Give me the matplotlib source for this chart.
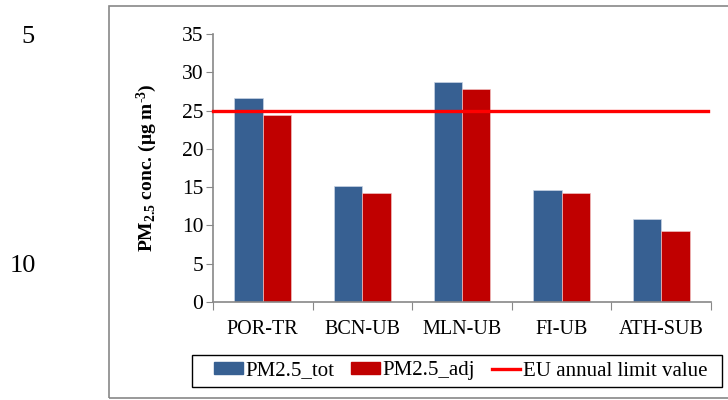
import matplotlib.pyplot as plt
import numpy as np
from matplotlib.patches import Rectangle
from matplotlib.lines import Line2D
from matplotlib.patches import Patch

plt.rcParams['font.family'] = ['Liberation Serif', 'DejaVu Serif']
plt.rcParams['mathtext.fontset'] = 'custom'
plt.rcParams['mathtext.rm'] = 'Liberation Serif:bold'
plt.rcParams['mathtext.default'] = 'rm'

# data
sites = ['POR-TR', 'BCN-UB', 'MLN-UB', 'FI-UB', 'ATH-SUB']
pm_tot = [26.6, 15.1, 28.7, 14.6, 10.9]
pm_adj = [24.4, 14.3, 27.8, 14.3, 9.3]
eu_limit = 25

blue = '#376092'
red = '#C00000'

fig = plt.figure(figsize=(7.28, 4.0), dpi=100)
ax = fig.add_axes([213 / 728, 1 - 302 / 400, (711 - 213) / 728, (302 - 34) / 400])

x = np.arange(len(sites))
w = 0.285
ax.bar(x - w / 2, pm_tot, w, color=blue, edgecolor='#c8d4e4', linewidth=0.5)
ax.bar(x + w / 2, pm_adj, w, color=red, edgecolor='#f0c0c0', linewidth=0.5)
ax.plot([-0.5, 4.47], [eu_limit, eu_limit], color='#FF0000', lw=2.4, clip_on=False, zorder=3)

ax.set_xlim(-0.5, 4.5)
ax.set_ylim(0, 35)
ax.set_yticks(range(0, 36, 5))
ax.tick_params(axis='y', labelsize=15.5, length=5, color='#888888', pad=2)

# category ticks at boundaries, labels in the middle
ax.set_xticks(np.arange(-0.5, 5, 1))
ax.set_xticklabels([])
ax.set_xticks(x, minor=True)
ax.set_xticklabels(sites, minor=True, fontsize=14.5)
ax.tick_params(axis='x', which='major', length=6, color='#888888')
ax.tick_params(axis='x', which='minor', length=0, pad=13)

for s in ['top', 'right']:
    ax.spines[s].set_visible(False)
for s in ['left', 'bottom']:
    ax.spines[s].set_color('#888888')
    ax.spines[s].set_linewidth(1.2)

ax.set_ylabel(r'PM$_{2.5}$ conc. (μg m$^{\text{-}3}$)', fontsize=14, fontweight='bold', labelpad=16)

handles = [Patch(color=blue), Patch(color=red), Line2D([], [], color='#FF0000', lw=2.4)]
labels = ['PM2.5_tot', 'PM2.5_adj', 'EU annual limit value']
fig.legend(handles, labels, loc='center', bbox_to_anchor=(461 / 728, 1 - 371 / 400),
           ncol=3, fontsize=15, frameon=False,
           handlelength=1.35, handleheight=0.55, handletextpad=0.15, columnspacing=0.8,
           borderpad=0.2, borderaxespad=0)
# legend box
fig.patches.append(Rectangle((192 / 728, 1 - 387 / 400), (722 - 192) / 728, (387 - 355) / 400,
                             transform=fig.transFigure, fill=False, edgecolor='black', lw=1.0))

# outer chart frame (right side runs off the page)
fig.patches.append(Rectangle((109 / 728, 1 - 398 / 400), (740 - 109) / 728, (398 - 6) / 400,
                             transform=fig.transFigure, fill=False, edgecolor='#888888', lw=1.2))

# line numbers from the page
fig.text(28 / 728, 1 - 37 / 400, '5', fontsize=19, ha='center', va='center')
fig.text(23 / 728, 1 - 266 / 400, '10', fontsize=19, ha='center', va='center')

fig.savefig('out.png', dpi=100)
